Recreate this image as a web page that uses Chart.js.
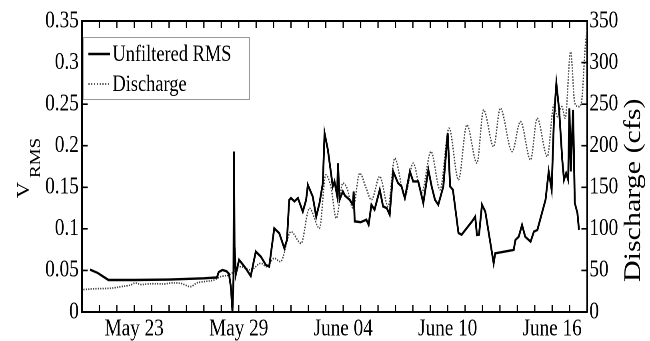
<!DOCTYPE html>
<html>
<head>
<meta charset="utf-8">
<script src="https://cdn.jsdelivr.net/npm/chart.js@4.4.1/dist/chart.umd.min.js"></script>
<style>
   html, body { margin: 0; padding: 0; background: #fff; overflow: hidden; }
   /* the reference is squeezed sideways, so draw wide and squeeze */
   #wrap { width: 812px; height: 341px; transform: scaleX(0.8); transform-origin: 0 0; }
   #chart { width: 812px; height: 341px; }
</style>
</head>
<body>
<div id="wrap"><canvas id="chart" width="812" height="341"></canvas></div>
<script>
// days counted from May 20
const tickDays = [3, 9, 15, 21, 27];
const tickLabels = ["May 23", "May 29", "June 04", "June 10", "June 16"];

// Unfiltered RMS (V)
const rmsDays = [0.46, 0.9, 1.52, 3.0, 5.0, 7.0, 7.75, 7.85, 8.06, 8.3, 8.44, 8.55, 8.64, 8.7, 8.73, 8.76, 8.83,
   9.02, 9.2, 9.4, 9.69, 9.98, 10.27, 10.56, 10.75, 11.04, 11.33, 11.62, 11.77, 11.9, 12.0, 12.2, 12.4,
   12.68, 12.87, 12.97, 13.25, 13.45, 13.64, 13.83, 13.93, 14.12, 14.3, 14.4, 14.5, 14.65, 14.7, 14.79,
   14.98, 15.1, 15.37, 15.56, 15.6, 15.66, 16.0, 16.33, 16.46, 16.62, 16.8, 17.1, 17.29, 17.5, 17.67,
   17.87, 18.15, 18.35, 18.54, 18.83, 19.02, 19.31, 19.6, 19.89, 20.08, 20.27, 20.46, 20.75, 21.0, 21.14,
   21.3, 21.62, 21.8, 22.4, 22.58, 22.68, 22.8, 22.97, 23.16, 23.64, 23.73, 24.79, 24.89, 25.08, 25.27,
   25.45, 25.76, 25.95, 26.15, 26.62, 26.8, 26.97, 27.1, 27.24, 27.4, 27.58, 27.68, 27.8, 27.92, 27.99,
   28.07, 28.2, 28.3, 28.45, 28.54];
const rmsValues = [0.051, 0.047, 0.0385, 0.0385, 0.039, 0.0405, 0.0415, 0.048, 0.0505, 0.049, 0.046, 0.03, 0.001, 0.04, 0.193, 0.079, 0.045,
   0.0626, 0.058, 0.0526, 0.0433, 0.0726, 0.0666, 0.0566, 0.0546, 0.1007, 0.0947, 0.0766, 0.0866, 0.1348, 0.137, 0.133, 0.137,
   0.1207, 0.1348, 0.1528, 0.1388, 0.1147, 0.131, 0.1549, 0.215, 0.195, 0.167, 0.151, 0.157, 0.14, 0.179, 0.135,
   0.145, 0.14, 0.135, 0.129, 0.145, 0.109, 0.108, 0.111, 0.105, 0.129, 0.123, 0.147, 0.127, 0.125, 0.117,
   0.169, 0.155, 0.151, 0.137, 0.169, 0.157, 0.157, 0.131, 0.171, 0.151, 0.135, 0.129, 0.151, 0.215, 0.151,
   0.147, 0.095, 0.093, 0.109, 0.1147, 0.0927, 0.093, 0.129, 0.1207, 0.0586, 0.0706, 0.0746, 0.0866, 0.0906, 0.1047,
   0.0906, 0.0846, 0.0966, 0.0987, 0.135, 0.169, 0.147, 0.231, 0.275, 0.243, 0.183, 0.159, 0.167, 0.159, 0.245,
   0.169, 0.243, 0.131, 0.119, 0.0987];

// Discharge (cfs)
const flowDays = [0.08, 0.8, 1.6, 2.4, 2.8, 3.06, 3.4, 3.73, 4.2, 4.69, 5.2, 5.66, 6.23, 6.6, 7.0, 7.58, 7.96, 8.5,
   9.1, 9.69, 10.27, 10.6, 11.04, 11.4, 12.0, 12.58, 13.06, 13.64, 14.0, 14.3, 14.6, 14.98, 15.2, 15.56,
   15.95, 16.3, 16.62, 17.1, 17.58, 17.96, 18.54, 19.02, 19.5, 20.04, 20.56, 21.08, 21.62, 22.1, 22.68,
   23.06, 23.64, 24.02, 24.7, 25.18, 25.76, 26.14, 26.72, 27.1, 27.3, 27.55, 27.75, 28.06, 28.3, 28.54,
   28.7, 28.9, 29.0];
const flowValues = [27, 28, 28.5, 31, 32.5, 35, 33, 33.7, 34, 33.7, 35, 34.5, 30.5, 35, 36.5, 38.5, 42.5, 45,
   54.5, 50.5, 58.6, 54.5, 64.6, 60.5, 96.6, 82.6, 124.8, 100.7, 165, 150, 112.7, 155, 150, 125,
   167, 150, 135, 163, 127, 185, 139, 179, 143, 193, 147, 221, 159, 225, 179,
   243, 199, 245, 193, 229, 183, 233, 187, 249, 235, 247, 233, 313, 251, 247,
   255, 319, 339];

const serif = "'Liberation Serif', 'Times New Roman', serif";

function toPoints(xs, ys) {
   return xs.map((x, i) => ({ x: x, y: ys[i] }));
}

// inward ticks, top border, legend box and the axis titles
const framePlugin = {
   id: "frame",
   afterDraw(chart) {
      const ctx = chart.ctx;
      const a = chart.chartArea;
      const sx = chart.scales.x, sy = chart.scales.y, sy2 = chart.scales.y2;
      ctx.save();
      ctx.strokeStyle = "#000";
      ctx.lineWidth = 2;
      ctx.beginPath();
      ctx.moveTo(a.left - 1, a.top);
      ctx.lineTo(a.right + 1, a.top);
      ctx.stroke();

      ctx.lineWidth = 1.6;
      ctx.beginPath();
      sx.ticks.forEach(t => {
         const px = sx.getPixelForValue(t.value);
         if (px <= a.left + 1 || px >= a.right - 1) return;
         ctx.moveTo(px, a.bottom); ctx.lineTo(px, a.bottom - 7);
         ctx.moveTo(px, a.top); ctx.lineTo(px, a.top + 7);
      });
      sy.ticks.forEach(t => {
         const py = sy.getPixelForValue(t.value);
         if (py >= a.bottom - 1) return;
         ctx.moveTo(a.left, py); ctx.lineTo(a.left + 7, py);
      });
      sy2.ticks.forEach(t => {
         const py = sy2.getPixelForValue(t.value);
         if (py >= a.bottom - 1 || py <= a.top + 1) return;
         ctx.moveTo(a.right, py); ctx.lineTo(a.right - 7, py);
      });
      ctx.stroke();

      // legend
      const lx = a.left + 1, ly = 37, lw = 208, lh = 62;
      ctx.fillStyle = "#fff";
      ctx.fillRect(lx, ly, lw, lh);
      ctx.strokeStyle = "#999";
      ctx.lineWidth = 1;
      ctx.strokeRect(lx + 0.5, ly + 0.5, lw, lh);

      ctx.strokeStyle = "#000";
      ctx.lineWidth = 2.5;
      ctx.beginPath();
      ctx.moveTo(lx + 7, 54); ctx.lineTo(lx + 34, 54);
      ctx.stroke();
      ctx.strokeStyle = "#444";
      ctx.lineWidth = 1.7;
      ctx.setLineDash([1.5, 2]);
      ctx.beginPath();
      ctx.moveTo(lx + 7, 84); ctx.lineTo(lx + 34, 84);
      ctx.stroke();
      ctx.setLineDash([]);

      ctx.fillStyle = "#000";
      ctx.font = "23px " + serif;
      ctx.textBaseline = "middle";
      ctx.textAlign = "left";
      ctx.fillText("Unfiltered RMS", lx + 37, 55);
      ctx.fillText("Discharge", lx + 37, 85);

      // left title with subscript
      ctx.textBaseline = "alphabetic";
      ctx.save();
      ctx.translate(36, 198);
      ctx.rotate(-Math.PI / 2);
      ctx.font = "22px " + serif;
      ctx.fillText("V", 0, 0);
      ctx.font = "19px " + serif;
      ctx.fillText("RMS", 20, 14);
      ctx.restore();

      // right title
      ctx.save();
      ctx.translate(800, 282);
      ctx.rotate(-Math.PI / 2);
      ctx.font = "30px " + serif;
      ctx.fillText("Discharge (cfs)", 0, 0);
      ctx.restore();

      ctx.restore();
   }
};

const ctx = document.getElementById("chart").getContext("2d");
new Chart(ctx, {
   type: "line",
   data: {
      datasets: [
         {
            label: "Unfiltered RMS",
            data: toPoints(rmsDays, rmsValues),
            yAxisID: "y",
            borderColor: "#000",
            borderWidth: 2.4,
            pointRadius: 0,
            tension: 0
         },
         {
            label: "Discharge",
            data: toPoints(flowDays, flowValues),
            yAxisID: "y2",
            borderColor: "#444",
            borderWidth: 1.7,
            borderDash: [1.5, 1.5],
            pointRadius: 0,
            cubicInterpolationMode: "monotone"
         }
      ]
   },
   options: {
      responsive: false,
      devicePixelRatio: 2,
      animation: false,
      layout: { padding: { top: 21, left: 0, right: 0, bottom: 0 } },
      plugins: {
         legend: { display: false },
         tooltip: { enabled: false }
      },
      scales: {
         x: {
            type: "linear",
            min: 0,
            max: 29,
            grid: { display: false, drawTicks: false },
            border: { display: true, color: "#000", width: 2 },
            ticks: {
               stepSize: 1,
               autoSkip: false,
               maxRotation: 0,
               padding: 3,
               color: "#000",
               font: { family: serif, size: 24 },
               callback: v => {
                  const i = tickDays.indexOf(v);
                  return i >= 0 ? tickLabels[i] : "";
               }
            },
            afterFit: s => { s.height = 29; }
         },
         y: {
            position: "left",
            min: 0,
            max: 0.35,
            grid: { display: false, drawTicks: false },
            border: { display: true, color: "#000", width: 2 },
            ticks: {
               stepSize: 0.05,
               padding: 4,
               color: "#000",
               font: { family: serif, size: 24 },
               callback: v => String(+v.toFixed(2))
            },
            afterFit: s => { s.width = 102.5; }
         },
         y2: {
            position: "right",
            min: 0,
            max: 350,
            grid: { display: false, drawTicks: false },
            border: { display: true, color: "#000", width: 2 },
            ticks: {
               stepSize: 50,
               padding: 3,
               color: "#000",
               font: { family: serif, size: 24 }
            },
            afterFit: s => { s.width = 78.25; }
         }
      }
   },
   plugins: [framePlugin]
});
</script>
</body>
</html>
